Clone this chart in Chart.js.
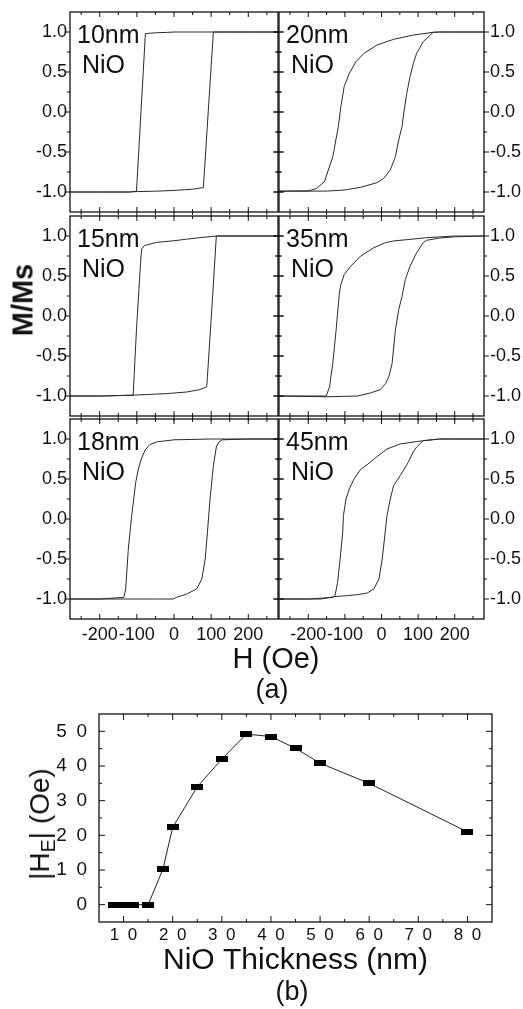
<!DOCTYPE html>
<html>
<head>
<meta charset="utf-8">
<script src="https://cdn.jsdelivr.net/npm/chart.js@4.4.0/dist/chart.umd.min.js"></script>
<style>
  body { margin: 0; background: #fff; }
  #fig { position: relative; width: 523px; height: 1009px; font-family: "Liberation Sans", Arial, sans-serif; color: #111; overflow: hidden; }
  #fig canvas { position: absolute; left: 0; top: -40px; }
  .lbl { position: absolute; white-space: nowrap; line-height: 1; }
  .sub { font-size: 0.7em; position: relative; top: 0.3em; }
</style>
</head>
<body>
<div id="fig">
  <canvas id="c10" width="523" height="1049"></canvas>
  <canvas id="c20" width="523" height="1049"></canvas>
  <canvas id="c15" width="523" height="1049"></canvas>
  <canvas id="c35" width="523" height="1049"></canvas>
  <canvas id="c18" width="523" height="1049"></canvas>
  <canvas id="c45" width="523" height="1049"></canvas>
  <canvas id="cb" width="523" height="1049"></canvas>
  <div class="lbl" style="left:23px; top:300px; font-size:29px; font-weight:bold; transform:translate(-50%,-50%) rotate(-90deg);">M/Ms</div>
  <div class="lbl" style="left:276px; top:644px; font-size:29px; transform:translateX(-50%);">H (Oe)</div>
  <div class="lbl" style="left:272px; top:676px; font-size:27px; transform:translateX(-50%);">(a)</div>
  <div class="lbl" style="left:40px; top:824px; font-size:28px; transform:translate(-50%,-50%) rotate(-90deg);">|H<span class="sub">E</span>| (Oe)</div>
  <div class="lbl" style="left:292px; top:978px; font-size:27px; transform:translateX(-50%);">(b)</div>
</div>
<script>
// (a) hysteresis loops, H in Oe and M/Ms; "dn" = field sweeping down, "up" = field sweeping up
var h10dn = [280, 200, 100, 0, -20, -50, -77, -101, -120, -200, -280];
var m10dn = [1.0, 1.0, 1.0, 1.0, 0.995, 0.99, 0.98, -0.99, -1.0, -1.0, -1.0];
var h10up = [-280, -200, -120, -100, -50, 0, 50, 79, 106, 150, 200, 280];
var m10up = [-1.0, -1.0, -1.0, -0.995, -0.99, -0.98, -0.965, -0.945, 1.0, 1.0, 1.0, 1.0];

var h20dn = [280, 200, 159, 141, 87, 33, -12, -48, -70, -88, -102, -111, -118, -133, -156, -178, -200, -280];
var m20dn = [1.0, 1.0, 1.0, 0.996, 0.962, 0.908, 0.838, 0.733, 0.629, 0.483, 0.317, 0.067, -0.183, -0.558, -0.871, -0.958, -0.985, -0.99];
var h20up = [-280, -200, -147, -102, -57, -12, 6, 24, 38, 47, 56, 62, 69, 78, 87, 96, 114, 141, 159, 200, 280];
var m20up = [-0.99, -0.99, -0.988, -0.975, -0.942, -0.883, -0.829, -0.725, -0.558, -0.35, -0.183, 0.025, 0.233, 0.442, 0.608, 0.733, 0.879, 0.996, 1.0, 1.0, 1.0];

var h15dn = [280, 200, 115, 70, 34, -2, -47, -80, -87, -90, -101, -110, -200, -280];
var m15dn = [1.0, 1.0, 1.0, 0.98, 0.96, 0.94, 0.92, 0.88, 0.84, 0.67, -0.17, -0.99, -1.0, -1.0];
var h15up = [-280, -200, -110, -65, -20, 34, 70, 88, 90, 104, 114, 150, 280];
var m15up = [-1.0, -1.0, -0.99, -0.98, -0.97, -0.95, -0.92, -0.886, -0.76, 0.25, 1.0, 1.0, 1.0];

var h35dn = [280, 200, 123, 78, 33, 11, -21, -57, -84, -102, -111, -115, -124, -133, -142, -151, -200, -280];
var m35dn = [1.0, 1.0, 0.979, 0.958, 0.938, 0.917, 0.854, 0.749, 0.623, 0.518, 0.392, 0.288, -0.174, -0.593, -0.886, -1.0, -1.0, -1.0];
var h35up = [-280, -151, -66, -30, -3, 11, 20, 29, 38, 47, 56, 65, 78, 96, 114, 123, 159, 200, 280];
var m35up = [-1.0, -1.01, -1.0, -0.962, -0.92, -0.844, -0.761, -0.593, -0.174, 0.078, 0.246, 0.455, 0.623, 0.791, 0.917, 0.946, 0.975, 0.99, 1.0];

var h18dn = [280, 200, 100, 0, -45, -65, -78, -88, -96, -103, -114, -123, -130, -135, -200, -280];
var m18dn = [1.0, 1.0, 1.0, 0.99, 0.965, 0.93, 0.86, 0.75, 0.625, 0.458, 0.04, -0.375, -0.875, -0.98, -1.0, -1.0];
var h18up = [-280, -200, -135, -50, -2, 7, 34, 61, 75, 84, 90, 97, 106, 114, 120, 130, 200, 280];
var m18up = [-1.0, -1.0, -1.0, -1.0, -1.0, -0.979, -0.938, -0.875, -0.75, -0.5, -0.167, 0.25, 0.667, 0.9, 0.96, 0.99, 1.0, 1.0];

var h45dn = [280, 200, 159, 114, 51, 15, -12, -39, -57, -75, -88, -97, -104, -106, -113, -120, -127, -133, -200, -280];
var m45dn = [1.0, 1.0, 1.0, 0.979, 0.938, 0.875, 0.78, 0.68, 0.62, 0.5, 0.375, 0.25, 0.042, -0.167, -0.5, -0.792, -0.958, -0.98, -1.0, -1.0];
var h45up = [-280, -165, -128, -93, -66, -39, -21, -7, 2, 8, 15, 24, 33, 51, 73, 87, 96, 114, 159, 200, 280];
var m45up = [-1.0, -1.0, -0.97, -0.958, -0.946, -0.925, -0.875, -0.75, -0.5, -0.25, 0.042, 0.25, 0.417, 0.542, 0.708, 0.84, 0.9, 0.979, 1.0, 1.0, 1.0];

var fieldTicks = [-200, -100, 0, 100, 200];
var momentTicks = [-1.0, -0.5, 0.0, 0.5, 1.0];

// (b) exchange bias vs NiO thickness
var thickness = [8, 10, 12, 15, 18, 20, 25, 30, 35, 40, 45, 50, 60, 80];
var exchangeBias = [0, 0, 0, 0, 10.2, 22.3, 34, 42, 49.2, 48.5, 45.1, 40.8, 35, 21];
var thickTicks = [10, 20, 30, 40, 50, 60, 70, 80];
var biasTicks = [0, 10, 20, 30, 40, 50];

Chart.defaults.font.family = '"Liberation Sans", Arial, sans-serif';
Chart.defaults.color = '#111';

// canvases are shifted up by OFF so the top row keeps its place
var FW = 523, FH = 1009, OFF = 40;
var noGrid = {display: false, drawTicks: false, tickLength: 0};

function pts(xs, ys) {
  return xs.map(function (x, i) { return {x: x, y: ys[i]}; });
}

function pick(list, fmt) {
  return function (v) {
    for (var i = 0; i < list.length; i++) {
      if (Math.abs(v - list[i]) < 1e-6) return fmt(v);
    }
    return '';
  };
}

function spaced(v) { return String(v).split('').join('\u2002'); }

function isMajor(v, step) {
  var r = v / step;
  return Math.abs(r - Math.round(r)) < 1e-6;
}

// one tick mark; dx,dy point into the plot
function mark(ctx, x, y, dx, dy, len, mode) {
  var a = mode === 'out' ? 0 : len, b = mode === 'in' ? 0 : len;
  ctx.moveTo(x - dx * b, y - dy * b);
  ctx.lineTo(x + dx * a, y + dy * a);
}

var frameTicks = {
  id: 'frameTicks',
  afterDraw: function (chart, args, o) {
    var ctx = chart.ctx, a = chart.chartArea;
    var xs = chart.scales.x, ys = chart.scales.y;
    ctx.save();
    ctx.strokeStyle = '#111';
    ctx.lineWidth = 1.3;
    ctx.strokeRect(a.left, a.top, a.right - a.left, a.bottom - a.top);
    ctx.lineWidth = 1;
    ctx.beginPath();
    xs.ticks.forEach(function (t) {
      if (t.value <= xs.min || t.value >= xs.max) return;
      var p = xs.getPixelForValue(t.value);
      var len = isMajor(t.value, o.xMajor) ? o.major : o.minor;
      mark(ctx, p, a.bottom, 0, -1, len, o.bottom);
      mark(ctx, p, a.top, 0, 1, len, o.top);
    });
    ys.ticks.forEach(function (t) {
      if (t.value <= ys.min || t.value >= ys.max) return;
      var p = ys.getPixelForValue(t.value);
      var len = isMajor(t.value, o.yMajor) ? o.major : o.minor;
      mark(ctx, a.left, p, 1, 0, len, o.left);
      mark(ctx, a.right, p, -1, 0, len, o.right);
    });
    ctx.stroke();
    ctx.restore();
  }
};

var panelText = {
  id: 'panelText',
  afterDraw: function (chart, args, o) {
    if (!o.lines) return;
    var ctx = chart.ctx, a = chart.chartArea;
    ctx.save();
    ctx.fillStyle = '#111';
    ctx.font = '25px "Liberation Sans", Arial, sans-serif';
    ctx.fillText(o.lines[0], a.left + 7, a.top + 31);
    ctx.fillText(o.lines[1], a.left + 12, a.top + 61);
    ctx.restore();
  }
};

var rowTop = [12, 216, 419];

function loopChart(id, col, row, name, hdn, mdn, hup, mup) {
  var top = rowTop[row];
  var bottomRow = row === 2;
  var xH = bottomRow ? 30 : 0;
  var pad = col === 0
    ? {left: 0, right: FW - 278, top: top + OFF, bottom: FH - (top + 200) - xH}
    : {left: 279, right: 0, top: top + OFF, bottom: FH - (top + 200) - xH};

  new Chart(document.getElementById(id), {
    type: 'line',
    data: {
      datasets: [
        {data: pts(hdn, mdn), borderColor: '#2a2a2a', borderWidth: 1, pointRadius: 0, tension: 0},
        {data: pts(hup, mup), borderColor: '#2a2a2a', borderWidth: 1, pointRadius: 0, tension: 0}
      ]
    },
    options: {
      responsive: false,
      animation: false,
      events: [],
      layout: {padding: pad},
      plugins: {
        legend: {display: false},
        tooltip: {enabled: false},
        frameTicks: {
          xMajor: 100, yMajor: 0.5, major: 5, minor: 3,
          left: col === 0 ? 'out' : 'both',
          right: col === 0 ? 'both' : 'out',
          top: 'in',
          bottom: bottomRow ? 'in' : 'both'
        },
        panelText: {lines: [name, 'NiO']}
      },
      scales: {
        x: {
          type: 'linear', min: -280, max: 280,
          grid: noGrid, border: {display: false},
          ticks: {
            display: bottomRow, stepSize: 50, includeBounds: false, autoSkip: false,
            maxRotation: 0, padding: 5, font: {size: 18},
            callback: pick(fieldTicks, function (v) { return String(v); })
          },
          afterFit: function (s) { s.height = xH; }
        },
        y: {
          type: 'linear', min: -1.25, max: 1.25,
          position: col === 0 ? 'left' : 'right',
          grid: noGrid, border: {display: false},
          ticks: {
            stepSize: 0.25, autoSkip: false, padding: col === 0 ? 3 : 6, font: {size: 18},
            callback: pick(momentTicks, function (v) { return v.toFixed(1); })
          },
          afterFit: function (s) { s.width = col === 0 ? 70 : FW - 484; }
        }
      }
    },
    plugins: [frameTicks, panelText]
  });
}

loopChart('c10', 0, 0, '10nm', h10dn, m10dn, h10up, m10up);
loopChart('c20', 1, 0, '20nm', h20dn, m20dn, h20up, m20up);
loopChart('c15', 0, 1, '15nm', h15dn, m15dn, h15up, m15up);
loopChart('c35', 1, 1, '35nm', h35dn, m35dn, h35up, m35up);
loopChart('c18', 0, 2, '18nm', h18dn, m18dn, h18up, m18up);
loopChart('c45', 1, 2, '45nm', h45dn, m45dn, h45up, m45up);

// flat rectangular marker used in (b)
var marker = document.createElement('canvas');
marker.width = 12;
marker.height = 6;
var mctx = marker.getContext('2d');
mctx.fillStyle = '#000';
mctx.fillRect(0, 0, 12, 6);

new Chart(document.getElementById('cb'), {
  type: 'line',
  data: {
    datasets: [{
      data: pts(thickness, exchangeBias),
      borderColor: '#222', borderWidth: 1, tension: 0,
      pointStyle: marker, pointRadius: 4
    }]
  },
  options: {
    responsive: false,
    animation: false,
    events: [],
    layout: {padding: {left: 0, right: FW - 492, top: 714 + OFF, bottom: 30}},
    plugins: {
      legend: {display: false},
      tooltip: {enabled: false},
      frameTicks: {xMajor: 10, yMajor: 10, major: 6, minor: 3, left: 'in', right: 'in', top: 'in', bottom: 'in'},
      panelText: {}
    },
    scales: {
      x: {
        type: 'linear', min: 5, max: 85,
        grid: noGrid, border: {display: false},
        ticks: {
          stepSize: 5, autoSkip: false, maxRotation: 0, padding: 3, font: {size: 17},
          callback: pick(thickTicks, spaced)
        },
        title: {display: true, text: 'NiO Thickness (nm)', font: {size: 30}, color: '#111', padding: {top: 0, bottom: 0}},
        afterFit: function (s) { s.height = 57; }
      },
      y: {
        type: 'linear', min: -5, max: 55,
        grid: noGrid, border: {display: false},
        ticks: {
          stepSize: 5, autoSkip: false, padding: 12, font: {size: 19},
          callback: pick(biasTicks, spaced)
        },
        afterFit: function (s) { s.width = 99; }
      }
    }
  },
  plugins: [frameTicks, panelText]
});
</script>
</body>
</html>
